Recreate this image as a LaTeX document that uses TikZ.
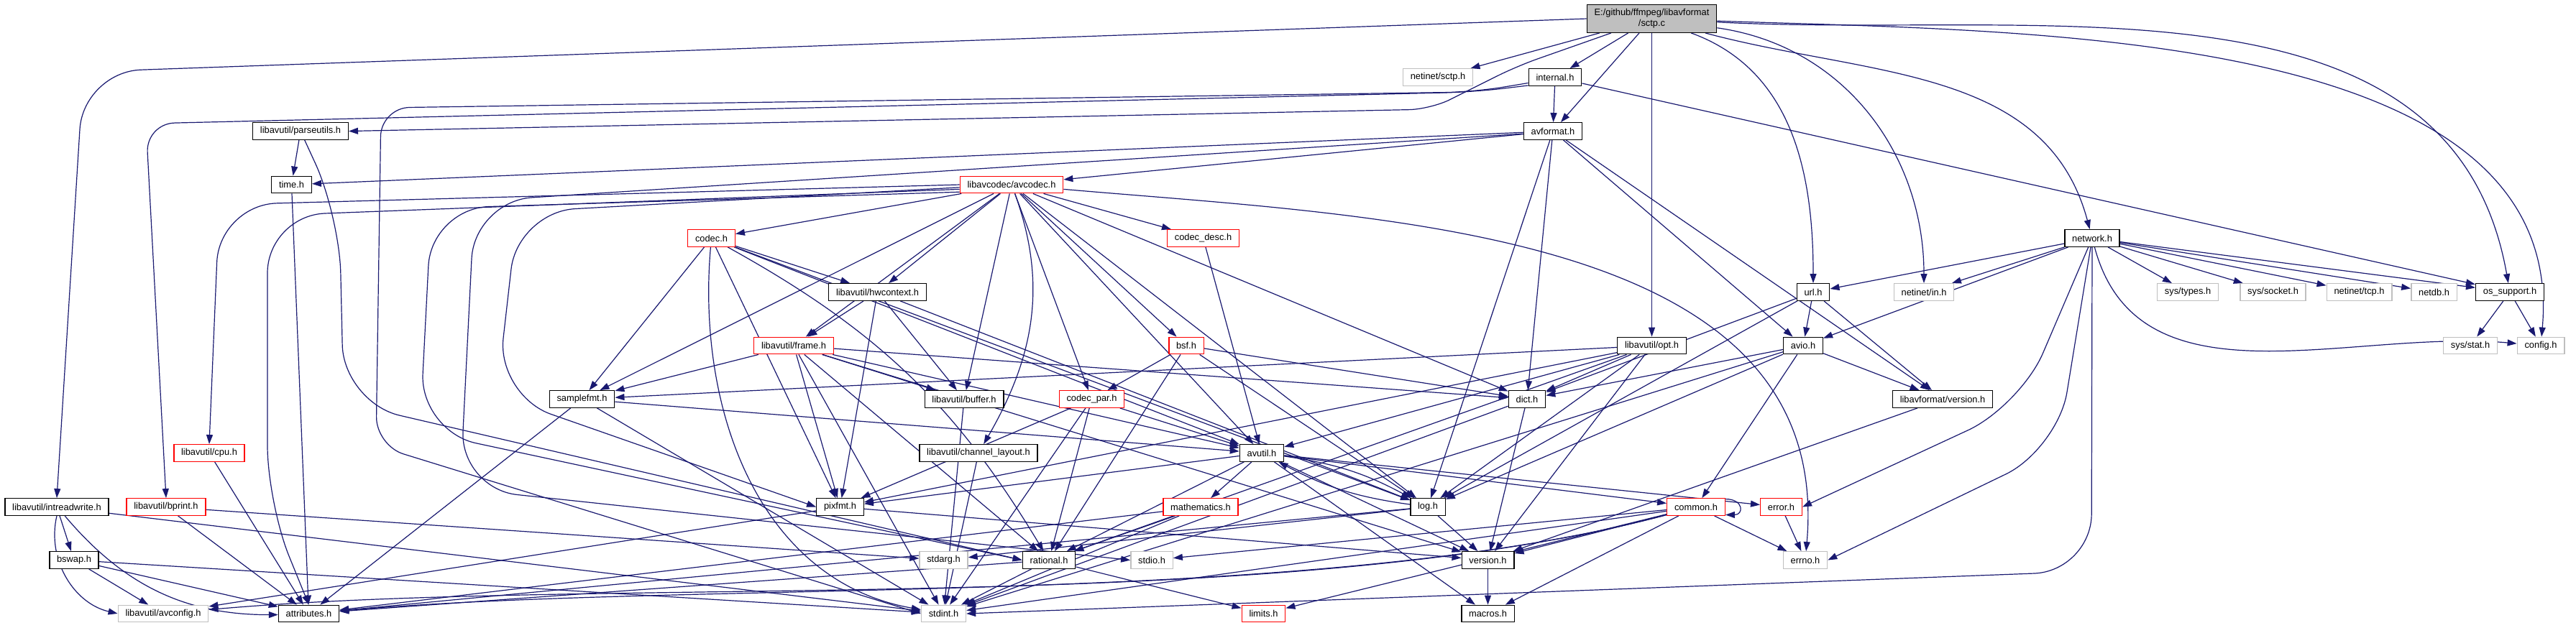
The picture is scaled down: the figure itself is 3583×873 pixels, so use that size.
\documentclass[tikz,border=0pt]{standalone}
\usepackage{fontspec}
\setmainfont{Liberation Sans}
\usepackage{xcolor}
\usetikzlibrary{
	arrows.meta, 
	backgrounds
}
\definecolor{depblue}{HTML}{191970}
\definecolor{boxgray}{HTML}{BFBFBF}

\begin{document}
\begin{tikzpicture}[
	x=0.2pt, y=-0.2pt,
	hdr/.style={draw=black, line width=0.28pt, fill=white, minimum height=4.7pt,
		inner xsep=2.05pt, inner ysep=0pt, font=\fontsize{2.57}{3}\selectfont},
	hdrred/.style={hdr, draw=red},
	hdrgray/.style={hdr, draw=boxgray},
	srcfile/.style={hdr, fill=boxgray, align=center, minimum height=7.7pt},
	dep/.style={depblue, line width=0.24pt, -{Triangle[length=2.6pt,width=1.8pt]}}
]
	% 画布范围
	\useasboundingbox (0,0) rectangle (3583,873);
	
	% 命名节点
	\node[srcfile] (root) at (2297.5,26) {E:/github/ffmpeg/libavformat\\/sctp.c};
	\node[hdrgray] (sctph) at (2000,107.5) {netinet/sctp.h};
	\node[hdr] (internal) at (2163,107.5) {internal.h};
	\node[hdr] (avformat) at (2160,182.5) {avformat.h};
	\node[hdr] (parseutils) at (418,182.5) {libavutil/parseutils.h};
	\node[hdr] (timeh) at (405.5,257) {time.h};
	\node[hdrred] (avcodec) at (1407,257) {libavcodec/avcodec.h};
	\node[hdrred] (codec) at (989.5,331.5) {codec.h};
	\node[hdrred] (codecdesc) at (1673.5,331.5) {codec\_desc.h};
	\node[hdr] (network) at (2910,331.5) {network.h};
	\node[hdr] (hwcontext) at (1220.5,406.5) {libavutil/hwcontext.h};
	\node[hdr] (url) at (2522,406.5) {url.h};
	\node[hdrgray] (netin) at (2676,406.5) {netinet/in.h};
	\node[hdrgray] (systypes) at (3043,406.5) {sys/types.h};
	\node[hdrgray] (syssocket) at (3161.5,406.5) {sys/socket.h};
	\node[hdrgray] (tcp) at (3281.5,406.5) {netinet/tcp.h};
	\node[hdrgray] (netdb) at (3385.5,406.5) {netdb.h};
	\node[hdr] (ossupport) at (3491,406.5) {os\_support.h};
	\node[hdrred] (frame) at (1104,481) {libavutil/frame.h};
	\node[hdrred] (bsf) at (1650,481) {bsf.h};
	\node[hdr] (opt) at (2297.5,481) {libavutil/opt.h};
	\node[hdr] (avio) at (2508,481) {avio.h};
	\node[hdrgray] (sysstat) at (3436,481) {sys/stat.h};
	\node[hdrgray] (config) at (3534,481) {config.h};
	\node[hdr] (samplefmt) at (809.5,555.5) {samplefmt.h};
	\node[hdr] (buffer) at (1341,555.5) {libavutil/buffer.h};
	\node[hdrred] (codecpar) at (1518.5,555.5) {codec\_par.h};
	\node[hdr] (dict) at (2124,555.5) {dict.h};
	\node[hdr] (lavfversion) at (2702,555.5) {libavformat/version.h};
	\node[hdrred] (cpu) at (291,630.5) {libavutil/cpu.h};
	\node[hdr] (chlayout) at (1361,630.5) {libavutil/channel\_layout.h};
	\node[hdr] (avutil) at (1755,630.5) {avutil.h};
	\node[hdr] (intreadwrite) at (79,705.5) {libavutil/intreadwrite.h};
	\node[hdrred] (bprint) at (231,705.5) {libavutil/bprint.h};
	\node[hdr] (pixfmt) at (1168.5,705.5) {pixfmt.h};
	\node[hdrred] (mathematics) at (1670,705.5) {mathematics.h};
	\node[hdr] (log) at (1986,705.5) {log.h};
	\node[hdrred] (common) at (2359,705.5) {common.h};
	\node[hdrred] (error) at (2477.5,705.5) {error.h};
	\node[hdr] (bswap) at (103,779.5) {bswap.h};
	\node[hdrgray] (stdarg) at (1312.5,779.5) {stdarg.h};
	\node[hdr] (rational) at (1459,779.5) {rational.h};
	\node[hdrgray] (stdio) at (1602,779.5) {stdio.h};
	\node[hdr] (version) at (2069.5,779.5) {version.h};
	\node[hdrgray] (errno) at (2511,779.5) {errno.h};
	\node[hdrgray] (avconfig) at (227,854) {libavutil/avconfig.h};
	\node[hdr] (attributes) at (429.5,854) {attributes.h};
	\node[hdrgray] (stdint) at (1312.5,854) {stdint.h};
	\node[hdrred] (limits) at (1757.5,854) {limits.h};
	\node[hdr] (macros) at (2069.5,854) {macros.h};
	
	% 折线拐点
	\coordinate (irwturn) at (116,100);
	\coordinate (ibturn) at (2050,128);
	\coordinate (bpturn) at (203,172);
	\coordinate (puturnA) at (2110,92);
	\coordinate (puturnB) at (1990,152);
	\coordinate (isturnA) at (530,150);
	\coordinate (isturnB) at (523,620);
	\coordinate (prturnA) at (472,300);
	\coordinate (prturnB) at (478,560);
	\coordinate (cputurn) at (305,285);
	\coordinate (atturnA) at (372,300);
	\coordinate (atturnB) at (372,700);
	\coordinate (arturnA) at (600,290);
	\coordinate (arturnB) at (584,600);
	\coordinate (apturnA) at (720,295);
	\coordinate (apturnB) at (691,550);
	\coordinate (asturnA) at (660,280);
	\coordinate (asturnB) at (640,680);
	\coordinate (nstturn) at (2909,795);
	\coordinate (nerturn) at (2862,625);
	\coordinate (nrturn) at (2810,565);
	
	\begin{scope}[on background layer]
	% 直线依赖
	\foreach \src/\dsts in {root/{sctph,internal,avformat,opt},
		internal/{avformat,ossupport},
		avformat/{timeh,avcodec,dict,log,avio,lavfversion},
		parseutils/{timeh},
		timeh/{attributes},
		avcodec/{samplefmt,avutil,buffer,dict,frame,hwcontext,log,bsf,codec,codecdesc,codecpar},
		codec/{avutil,hwcontext,log,pixfmt,samplefmt},
		codecdesc/{avutil},
		hwcontext/{buffer,frame,log,pixfmt},
		frame/{stdint,avutil,buffer,dict,rational,samplefmt,pixfmt,version},
		bsf/{dict,log,rational,codecpar},
		buffer/{stdint},
		codecpar/{stdint,avutil,rational,pixfmt},
		chlayout/{stdint},
		avutil/{common,error,rational,version,macros,mathematics,pixfmt},
		pixfmt/{avconfig,version},
		mathematics/{stdint,attributes,rational},
		rational/{stdint,limits,attributes},
		samplefmt/{stdint,avutil,attributes},
		cpu/{attributes},
		intreadwrite/{stdint,bswap},
		bprint/{stdarg,attributes},
		bswap/{stdint,avconfig,attributes},
		opt/{rational,avutil,dict,log,pixfmt,samplefmt,version},
		avio/{stdint,common,dict,log,lavfversion},
		dict/{stdint,version},
		lavfversion/{version},
		log/{stdarg,attributes,version},
		common/{errno,version,macros,limits,stdint,stdio},
		error/{errno},
		version/{macros},
		url/{avio,lavfversion,dict,log},
		network/{url,netin,avio,systypes,syssocket,tcp,netdb,ossupport},
		ossupport/{config,sysstat}}
	\foreach \dst in \dsts
	\draw[dep] (\src) -- (\dst);
	
	% 绕行的依赖
	\draw[dep, rounded corners=16pt] (root.west) -- (irwturn) -- (intreadwrite.north);
	\draw[dep, rounded corners=6pt] (root) -- (puturnA) -- (puturnB) -- (parseutils.east);
	\draw[dep, rounded corners=8pt] (internal.197) -- (ibturn) -- (bpturn) -- (bprint.north);
	\draw[dep, rounded corners=8pt] (internal.192) -- (ibturn) -- (isturnA) -- (isturnB) -- (stdint.west);
	\draw[dep, rounded corners=16pt] (parseutils) -- (prturnA) -- (prturnB) -- (rational.west);
	\draw[dep, rounded corners=16pt] (avcodec.west) -- (cputurn) -- (cpu.north);
	\draw[dep, rounded corners=16pt] (avcodec.185) -- (atturnA) -- (atturnB) -- (attributes.north);
	\draw[dep, rounded corners=16pt] (avcodec.188) -- (arturnA) -- (arturnB) -- (rational.west);
	\draw[dep, rounded corners=16pt] (avcodec.183) -- (apturnA) -- (apturnB) -- (pixfmt.west);
	\draw[dep, rounded corners=16pt] (avformat.185) -- (asturnA) -- (asturnB) -- (stdio.west);
	\draw[dep, rounded corners=16pt] (network) -- (nstturn) -- (stdint.east);
	\draw[dep, rounded corners=16pt] (network) -- (nerturn) -- (errno.east);
	\draw[dep, rounded corners=16pt] (network) -- (nrturn) -- (error.east);
	
	% 弯曲的依赖
	\draw[dep] (root) to[out=-20,in=90] (url);
	\draw[dep] (root) to[out=-8,in=90] (netin);
	\draw[dep] (root) to[out=-15,in=105] (network);
	\draw[dep] (root) to[out=-3,in=100] (ossupport);
	\draw[dep] (root) to[out=-2,in=85,looseness=0.9] (config);
	\draw[dep] (network) to[out=-75,in=175] (config);
	\draw[dep] (intreadwrite) to[bend right=45] (avconfig);
	\draw[dep] (intreadwrite) to[bend right=25] (attributes);
	\draw[dep] (avutil) to[bend left=10] (log);
	\draw[dep] (log) to[bend left=10] (avutil);
	\draw[dep] (common.15) to[out=0,in=0,looseness=3] (common.-15);
	\draw[dep] (common) to[out=-165,in=5,looseness=0.7] (avconfig);
	\draw[dep] (common) to[out=-165,in=5,looseness=0.7] (attributes);
	\draw[dep] (avcodec) to[out=-5,in=85] (errno);
	\draw[dep] (avcodec) to[out=-70,in=60] (chlayout);
	\draw[dep] (codec) to[out=-95,in=170] (stdint);
	\draw[dep] (codec) to[bend left=15] (rational);
	\end{scope}
\end{tikzpicture}
\end{document}
